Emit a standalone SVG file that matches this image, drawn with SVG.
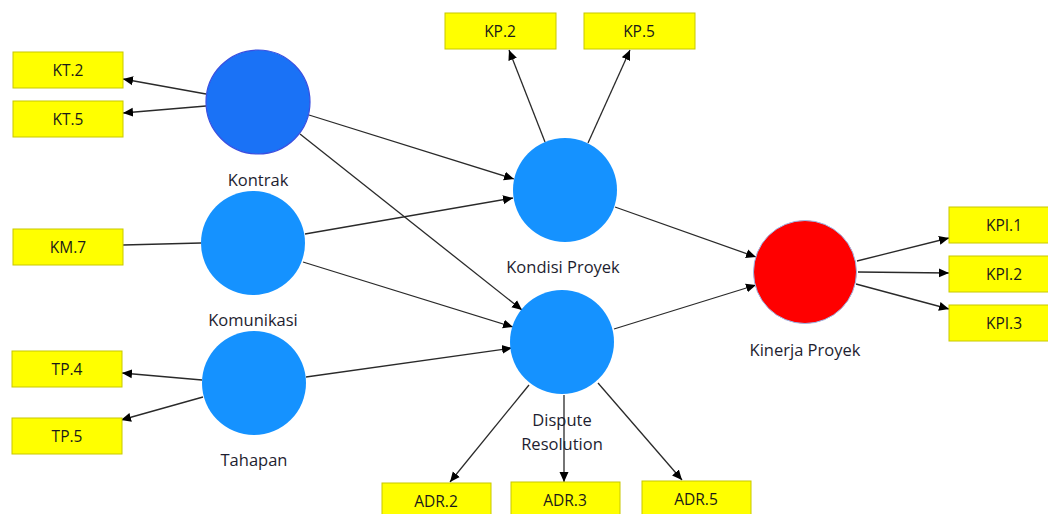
<svg xmlns="http://www.w3.org/2000/svg" width="1048" height="514" viewBox="0 0 1048 514">
  <style>
    .ind rect { fill: #ffff00; stroke: #c8c800; stroke-width: 1; }
    .ind text { font-family: "Open Sans", "Noto Sans", "Liberation Sans", sans-serif; font-size: 15.5px; fill: #1a1a1a; text-anchor: middle; }
    .lv circle { fill: #1592ff; }
    .lv text { font-family: "Open Sans", "Noto Sans", "Liberation Sans", sans-serif; font-size: 16.5px; fill: #1e1e30; text-anchor: middle; }
    #connectors path { stroke: #2a2a2a; stroke-width: 1.3; fill: none; }
    #connectors path.arr { marker-end: url(#head); }
  </style>
  <defs>
    <marker id="head" viewBox="0 0 10 10" refX="10" refY="5" markerWidth="10" markerHeight="10" markerUnits="userSpaceOnUse" orient="auto">
      <path d="M0,0.5 L10,5 L0,9.5 Z" fill="#000"/>
    </marker>
  </defs>
  <rect width="1048" height="514" fill="#ffffff"/>

  <!-- connectors -->
  <g id="connectors">
    <!-- Kontrak indicators -->
    <path class="arr" d="M206,94 L123,79"/>
    <path class="arr" d="M206,106 L123,113"/>
    <!-- Komunikasi indicator -->
    <path d="M201,243 L123,245"/>
    <!-- Tahapan indicators -->
    <path class="arr" d="M202,380 L122,373"/>
    <path class="arr" d="M203,397 L121,420"/>
    <!-- Kondisi Proyek indicators -->
    <path class="arr" d="M545,142 L509,50"/>
    <path class="arr" d="M588,143 L630,50"/>
    <!-- Dispute Resolution indicators -->
    <path class="arr" d="M529,385 L450,482"/>
    <path class="arr" d="M564,395 L564,482"/>
    <path class="arr" d="M598,383 L682,480"/>
    <!-- Kinerja Proyek indicators -->
    <path class="arr" d="M857,261 L949,238"/>
    <path class="arr" d="M858,272 L949,273"/>
    <path class="arr" d="M856,284 L949,309"/>
    <!-- structural paths -->
    <path class="arr" d="M309,115 L514,179"/>
    <path class="arr" d="M300,134 L522,310"/>
    <path class="arr" d="M305,234 L513,198"/>
    <path class="arr" d="M303,262 L513,327"/>
    <path class="arr" d="M306,377 L512,348"/>
    <path class="arr" d="M615,207 L756,257"/>
    <path class="arr" d="M614,329 L756,285"/>
  </g>

  <!-- indicator boxes -->
  <g id="KT2" class="ind"><rect x="13" y="52" width="110" height="36"/><text x="68" y="76">KT.2</text></g>
  <g id="KT5" class="ind"><rect x="13" y="101" width="110" height="36"/><text x="68" y="125">KT.5</text></g>
  <g id="KM7" class="ind"><rect x="13" y="229" width="110" height="36"/><text x="68" y="253">KM.7</text></g>
  <g id="TP4" class="ind"><rect x="12" y="351" width="110" height="36"/><text x="67" y="375">TP.4</text></g>
  <g id="TP5" class="ind"><rect x="12" y="418" width="110" height="36"/><text x="67" y="442">TP.5</text></g>
  <g id="KP2" class="ind"><rect x="445" y="13" width="111" height="36"/><text x="500" y="37">KP.2</text></g>
  <g id="KP5" class="ind"><rect x="584" y="13" width="111" height="36"/><text x="639" y="37">KP.5</text></g>
  <g id="ADR2" class="ind"><rect x="382" y="483" width="109" height="36"/><text x="436" y="507">ADR.2</text></g>
  <g id="ADR3" class="ind"><rect x="511" y="482" width="109" height="36"/><text x="565" y="506">ADR.3</text></g>
  <g id="ADR5" class="ind"><rect x="642" y="481" width="109" height="36"/><text x="696" y="505">ADR.5</text></g>
  <g id="KPI1" class="ind"><rect x="949" y="207" width="110" height="36"/><text x="1004" y="231">KPI.1</text></g>
  <g id="KPI2" class="ind"><rect x="949" y="256" width="110" height="36"/><text x="1004" y="280">KPI.2</text></g>
  <g id="KPI3" class="ind"><rect x="949" y="305" width="110" height="36"/><text x="1004" y="329">KPI.3</text></g>

  <!-- latent variables -->
  <g id="Kontrak" class="lv">
    <circle cx="258" cy="102" r="52" style="fill:#1a72f6; stroke:#3a4fe0; stroke-width:1.2"/>
    <text x="258" y="186">Kontrak</text>
  </g>
  <g id="Komunikasi" class="lv">
    <circle cx="253" cy="243" r="52"/>
    <text x="253" y="326">Komunikasi</text>
  </g>
  <g id="Tahapan" class="lv">
    <circle cx="254" cy="383" r="52"/>
    <text x="254" y="466">Tahapan</text>
  </g>
  <g id="KondisiProyek" class="lv">
    <circle cx="565" cy="190" r="52"/>
    <text x="563" y="273">Kondisi Proyek</text>
  </g>
  <g id="DisputeResolution" class="lv">
    <circle cx="562" cy="342" r="52"/>
    <text x="562" y="426">Dispute</text>
    <text x="562" y="450">Resolution</text>
  </g>
  <g id="KinerjaProyek" class="lv">
    <circle cx="805" cy="272" r="51.5" style="fill:#ff0000; stroke:#9bb8e8; stroke-width:1"/>
    <text x="805" y="356">Kinerja Proyek</text>
  </g>
</svg>
